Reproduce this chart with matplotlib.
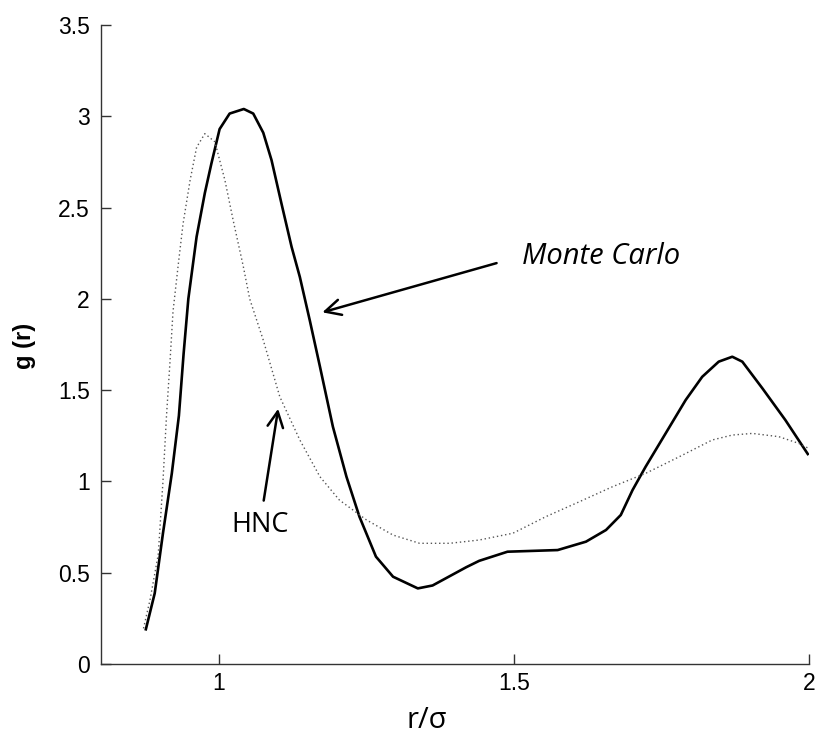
import matplotlib.pyplot as plt
import numpy as np

# Monte Carlo g(r)
mc_r = [0.876, 0.891, 0.905, 0.920, 0.932, 0.940, 0.948, 0.962, 0.976, 0.987,
        1.001, 1.018, 1.042, 1.058, 1.075, 1.089, 1.106, 1.123, 1.137, 1.154,
        1.171, 1.193, 1.216, 1.238, 1.266, 1.295, 1.337, 1.362, 1.419, 1.441,
        1.489, 1.574, 1.622, 1.656, 1.681, 1.701, 1.723, 1.757, 1.791, 1.819,
        1.847, 1.870, 1.887, 1.921, 1.960, 1.998]
mc_g = [0.19, 0.387, 0.716, 1.044, 1.36, 1.70, 2.00, 2.34, 2.58, 2.74,
        2.93, 3.015, 3.04, 3.015, 2.91, 2.76, 2.52, 2.285, 2.12, 1.88,
        1.63, 1.30, 1.026, 0.807, 0.588, 0.478, 0.414, 0.43, 0.53, 0.565,
        0.615, 0.624, 0.67, 0.734, 0.816, 0.953, 1.08, 1.263, 1.446, 1.573,
        1.656, 1.683, 1.656, 1.51, 1.336, 1.15]

# HNC g(r)
hnc_r = [0.872, 0.883, 0.897, 0.905, 0.911, 0.917, 0.922, 0.931, 0.939, 0.951,
         0.962, 0.976, 0.993, 1.010, 1.024, 1.041, 1.052, 1.075, 1.103, 1.137,
         1.171, 1.204, 1.250, 1.295, 1.340, 1.391, 1.441, 1.498, 1.554, 1.611,
         1.667, 1.723, 1.780, 1.836, 1.870, 1.904, 1.949, 1.983, 2.000]
hnc_g = [0.195, 0.35, 0.60, 1.00, 1.36, 1.66, 1.93, 2.19, 2.41, 2.65,
         2.83, 2.905, 2.86, 2.65, 2.43, 2.18, 2.00, 1.774, 1.464, 1.227,
         1.026, 0.898, 0.789, 0.706, 0.661, 0.661, 0.679, 0.716, 0.807, 0.889,
         0.971, 1.044, 1.135, 1.227, 1.254, 1.263, 1.245, 1.208, 1.18]

xticks = [1, 1.5, 2]
yticks = [0, 0.5, 1, 1.5, 2, 2.5, 3, 3.5]

plt.rcParams['font.family'] = ['Liberation Sans', 'DejaVu Sans']

fig = plt.figure(figsize=(8.16, 7.38), dpi=100)
ax = fig.add_axes([0.1238, 0.1003, 0.8676, 0.8658])

ax.plot(mc_r, mc_g, color='black', lw=1.9)
ax.plot(hnc_r, hnc_g, color='#555555', lw=1.0, linestyle=(0, (1, 2)))

ax.set_xlim(0.8, 2)
ax.set_ylim(0, 3.5)
ax.set_xticks(xticks)
ax.set_xticklabels(['1', '1.5', '2'])
ax.set_yticks(yticks)
ax.set_yticklabels(['0', '0.5', '1', '1.5', '2', '2.5', '3', '3.5'])
ax.tick_params(direction='in', length=7, width=1, color='#333333', pad=6, labelsize=16.5)
ax.tick_params(axis='y', pad=8)
ax.spines['top'].set_visible(False)
ax.spines['right'].set_visible(False)
for s in ['left', 'bottom']:
    ax.spines[s].set_color('#333333')
    ax.spines[s].set_linewidth(1)

fig.text(25 / 816, 1 - 346 / 738, 'g (r)', rotation=90, ha='center', va='center',
         fontsize=17, fontweight='bold')
fig.text(427 / 816, 1 - 721 / 738, 'r/σ', ha='center', va='center',
         fontsize=21, family='Open Sans')

ax.annotate('', xy=(1.1706, 1.922), xytext=(1.475, 2.20),
            arrowprops=dict(arrowstyle='->', lw=1.8, color='black', mutation_scale=28))
ax.text(1.648, 2.234, 'Monte Carlo', fontsize=21, style='italic', family='Open Sans',
        ha='center', va='center')

ax.annotate('', xy=(1.101, 1.413), xytext=(1.075, 0.88),
            arrowprops=dict(arrowstyle='->', lw=1.8, color='black', mutation_scale=28))
ax.text(1.069, 0.76, 'HNC', fontsize=19.5, family='Open Sans', ha='center', va='center')

plt.savefig('out.png', dpi=100)
